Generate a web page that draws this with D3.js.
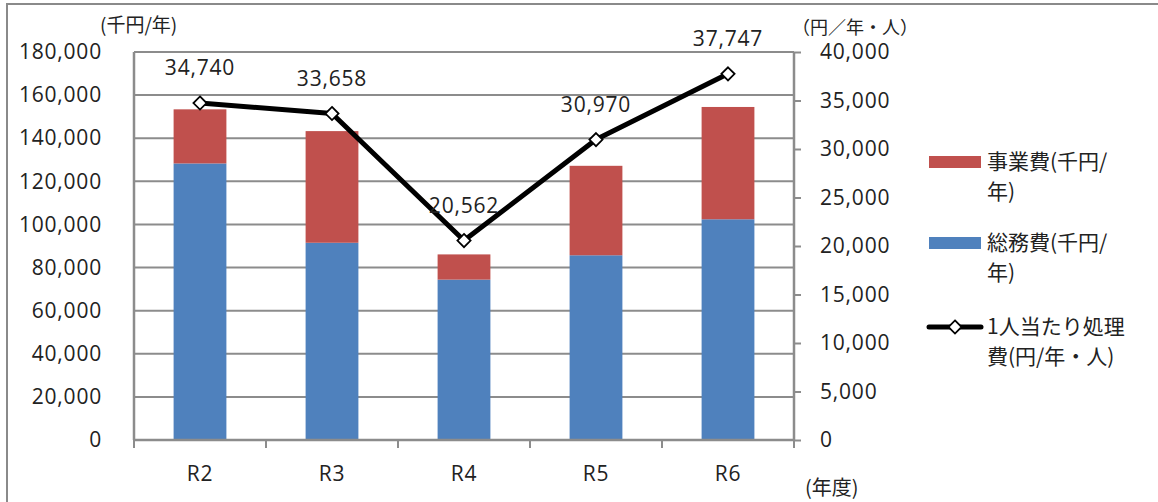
<!DOCTYPE html>
<html><head><meta charset="utf-8">
<script src="https://cdn.jsdelivr.net/npm/d3@7"></script>
<style>
body{margin:0;background:#fff;}
svg{display:block;font-family:"Open Sans","Noto Sans CJK JP",sans-serif;}
</style></head>
<body>
<svg id="c" width="1158" height="502"></svg>
<script>
const categories = ["R2","R3","R4","R5","R6"];
const soumuhi = [128300, 91500, 74400, 85700, 102400];   // 総務費(千円/年)
const jigyohi = [25100, 51800, 11700, 41500, 52100];     // 事業費(千円/年)
const perCapita = [34740, 33658, 20562, 30970, 37747];   // 1人当たり処理費(円/年・人)
const leftTicks = [0,20000,40000,60000,80000,100000,120000,140000,160000,180000];
const rightTicks = [0,5000,10000,15000,20000,25000,30000,35000,40000];

const svg = d3.select("#c");
const L = 134, R = 794, T = 52, B = 440;
const grid = "#8c8c8c";
const ink = "#222";
const numFont = "Open Sans";
const fmt = d3.format(",");

svg.append("rect").attr("x",7).attr("y",4).attr("width",1170).attr("height",520)
  .attr("fill","none").attr("stroke","#8a8a8a").attr("stroke-width",2);

const x = d3.scaleBand().domain(categories).range([L,R]).padding(0);
const yL = d3.scaleLinear().domain([0,180000]).range([B,T]);
const yR = d3.scaleLinear().domain([0,40000]).range([B,T]);

// gridlines
svg.append("g").selectAll("line").data(leftTicks).join("line")
  .attr("x1",L).attr("x2",R).attr("y1",d=>yL(d)).attr("y2",d=>yL(d))
  .attr("stroke",grid).attr("stroke-width",2);

// bars
const bw = x.bandwidth()*0.4;
const g = svg.append("g");
categories.forEach((c,i)=>{
  const cx = x(c)+x.bandwidth()/2;
  g.append("rect").attr("x",cx-bw/2).attr("width",bw)
    .attr("y",yL(soumuhi[i])).attr("height",yL(0)-yL(soumuhi[i])).attr("fill","#4F81BD");
  g.append("rect").attr("x",cx-bw/2).attr("width",bw)
    .attr("y",yL(soumuhi[i]+jigyohi[i])).attr("height",yL(soumuhi[i])-yL(soumuhi[i]+jigyohi[i])).attr("fill","#C0504D");
});

// axes
const axL = svg.append("g").attr("transform",`translate(${L},0)`)
  .call(d3.axisLeft(yL).tickValues(leftTicks).tickFormat(fmt).tickSize(0).tickPadding(32));
const axR = svg.append("g").attr("transform",`translate(${R},0)`)
  .call(d3.axisRight(yR).tickValues(rightTicks).tickFormat(fmt).tickSize(7).tickPadding(19));
const axB = svg.append("g").attr("transform",`translate(0,${B})`)
  .call(d3.axisBottom(x).tickSize(0).tickPadding(26));
[axL,axR,axB].forEach(a=>{
  a.select(".domain").attr("stroke",grid).attr("stroke-width",2.5);
  a.selectAll(".tick line").attr("stroke",grid).attr("stroke-width",2);
  a.selectAll("text").attr("font-size",21).attr("fill",ink).attr("font-family",numFont)
    .attr("letter-spacing","0.8px");
});
axL.select(".domain").attr("d",`M0,${B}V${T}`);
axR.select(".domain").attr("d",`M0,${B}V${T}`);
axB.select(".domain").attr("d",`M${L},0H${R}`);
// category boundary ticks
svg.append("g").selectAll("line").data(d3.range(categories.length+1)).join("line")
  .attr("x1",i=>L+i*x.step()).attr("x2",i=>L+i*x.step()).attr("y1",B).attr("y2",B+8)
  .attr("stroke",grid).attr("stroke-width",2);

// line series
const lineGen = d3.line().x((d,i)=>x(categories[i])+x.bandwidth()/2).y(d=>yR(d));
svg.append("path").datum(perCapita).attr("d",lineGen).attr("fill","none")
  .attr("stroke","#000").attr("stroke-width",5).attr("stroke-linejoin","round");
const diamond = d3.symbol().type(d3.symbolDiamond2).size(110);
svg.append("g").selectAll("path").data(perCapita).join("path")
  .attr("d",diamond)
  .attr("transform",(d,i)=>`translate(${x(categories[i])+x.bandwidth()/2},${yR(d)})`)
  .attr("fill","#fff").attr("stroke","#000").attr("stroke-width",1.8);
svg.append("g").selectAll("text").data(perCapita).join("text")
  .attr("x",(d,i)=>x(categories[i])+x.bandwidth()/2)
  .attr("y",d=>yR(d)-35).attr("dy","0.35em")
  .attr("text-anchor","middle").attr("font-size",21).attr("fill",ink)
  .attr("font-family",numFont).attr("letter-spacing","0.8px")
  .text(d=>fmt(d));

// axis titles
svg.append("text").attr("x",100).attr("y",25).attr("dy","0.35em").attr("font-size",19)
  .attr("fill",ink).attr("font-family","Noto Sans CJK JP").text("(千円/年)");
svg.append("text").attr("x",792).attr("y",28).attr("dy","0.35em").attr("font-size",18)
  .attr("fill",ink).attr("font-family","Noto Sans CJK JP").text("（円／年・人）");
svg.append("text").attr("x",805).attr("y",488).attr("dy","0.35em").attr("font-size",20)
  .attr("fill",ink).attr("font-family","Noto Sans CJK JP").text("(年度)");

// legend
const legend = [
  {type:"rect", color:"#C0504D", lines:["事業費(千円/","年)"], y:162},
  {type:"rect", color:"#4F81BD", lines:["総務費(千円/","年)"], y:243},
  {type:"line", color:"#000", lines:["1人当たり処理","費(円/年・人)"], y:327}
];
const lg = svg.append("g");
legend.forEach(d=>{
  if(d.type==="rect"){
    lg.append("rect").attr("x",929).attr("y",d.y-6).attr("width",52).attr("height",12).attr("fill",d.color);
  } else {
    lg.append("line").attr("x1",929).attr("x2",981).attr("y1",d.y).attr("y2",d.y)
      .attr("stroke","#000").attr("stroke-width",5).attr("stroke-linecap","round");
    lg.append("path").attr("d",diamond).attr("transform",`translate(955,${d.y})`)
      .attr("fill","#fff").attr("stroke","#000").attr("stroke-width",1.8);
  }
  d.lines.forEach((t,k)=>{
    lg.append("text").attr("x",987).attr("y",d.y+k*30).attr("dy","0.35em")
      .attr("font-size",21).attr("fill",ink).attr("font-family","Noto Sans CJK JP").text(t);
  });
});
</script>
</body></html>
